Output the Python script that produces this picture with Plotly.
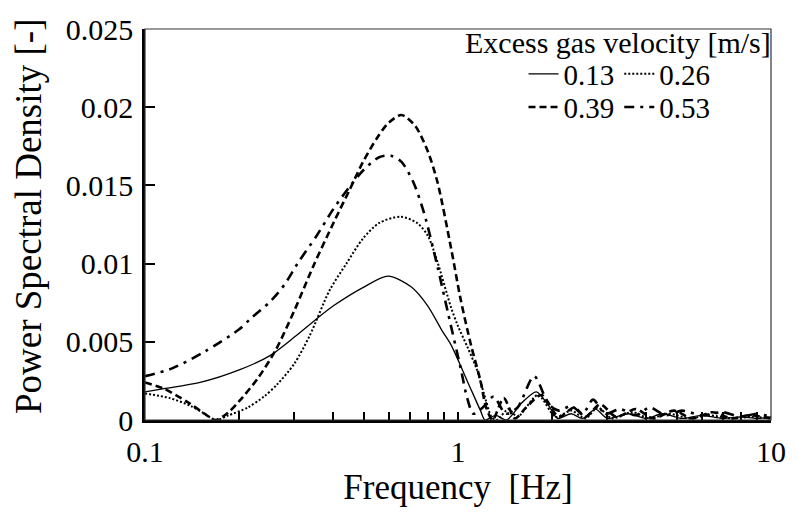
import plotly.graph_objects as go

# ---- data ----
f_013 = [0.1, 0.115, 0.15, 0.2, 0.25, 0.3, 0.35, 0.4, 0.5, 0.598, 0.71, 0.80, 0.89, 0.95, 1.07, 1.18, 1.22,
         1.32, 1.43, 1.6, 1.78, 1.95, 2.08, 2.3, 2.5, 2.75, 3.0, 3.5, 4.0, 4.5, 5.2, 6.0, 7.0, 8.0, 9.0, 10.0]
v_013 = [0.0018, 0.0020, 0.0024, 0.0032, 0.0041, 0.0053, 0.0064, 0.0073, 0.0085, 0.0092, 0.0085, 0.0073, 0.0057, 0.0048,
         0.0025, 0.0006, 0.0, 0.0003, 0.0, 0.0011, 0.0018, 0.0009, 0.0001, 0.0004, 0.0001, 0.0007, 0.0001, 0.0004,
         0.0001, 0.0004, 0.0001, 0.0003, 0.0001, 0.0002, 0.0001, 0.0002]

f_026 = [0.1, 0.12, 0.14, 0.155, 0.168, 0.185, 0.213, 0.24, 0.265, 0.30, 0.336, 0.389, 0.44, 0.497, 0.56, 0.655, 0.74,
         0.80, 0.86, 0.95, 1.0, 1.07, 1.15, 1.21, 1.28, 1.33, 1.45, 1.55, 1.8, 2.05, 2.3, 2.55, 2.8, 3.1, 3.6, 4.1,
         4.7, 5.5, 6.3, 7.5, 8.7, 10.0]
v_026 = [0.0017, 0.0014, 0.0009, 0.0004, 0.0, 0.0003, 0.0008, 0.0015, 0.0023, 0.0036, 0.0054, 0.0083, 0.0100, 0.0116,
         0.0126, 0.0130, 0.0126, 0.0118, 0.0101, 0.0072, 0.0060, 0.0047, 0.0032, 0.0017, 0.0002, 0.0, 0.0007, 0.0002,
         0.0016, 0.0002, 0.0006, 0.0001, 0.0008, 0.0001, 0.0005, 0.0001, 0.0004, 0.0001, 0.0003, 0.0001, 0.0002, 0.0001]

f_039 = [0.1, 0.115, 0.138, 0.155, 0.168, 0.185, 0.2, 0.23, 0.262, 0.30, 0.346, 0.40, 0.45, 0.497, 0.55, 0.6, 0.66,
         0.73, 0.80, 0.86, 0.95, 1.02, 1.10, 1.18, 1.23, 1.29, 1.4, 1.52, 1.65, 1.85, 2.1, 2.35, 2.55, 2.85, 3.2,
         3.7, 4.2, 4.9, 5.6, 6.5, 7.5, 8.5, 10.0]
v_039 = [0.0024, 0.0020, 0.0011, 0.0004, 0.0, 0.0005, 0.0012, 0.0027, 0.0045, 0.0070, 0.0099, 0.0126, 0.0147, 0.0165,
         0.0180, 0.0190, 0.0195, 0.0188, 0.0172, 0.0152, 0.0110, 0.0077, 0.0048, 0.0025, 0.0008, 0.0, 0.0014, 0.0001,
         0.0008, 0.0016, 0.0002, 0.0008, 0.0002, 0.0010, 0.0002, 0.0007, 0.0001, 0.0006, 0.0001, 0.0005, 0.0001,
         0.0003, 0.0001]

f_053 = [0.1, 0.122, 0.156, 0.2, 0.218, 0.252, 0.28, 0.307, 0.354, 0.40, 0.45, 0.50, 0.56, 0.61, 0.66, 0.72, 0.78,
         0.86, 0.93, 1.02, 1.07, 1.12, 1.2, 1.3, 1.42, 1.55, 1.75, 1.95, 2.1, 2.3, 2.5, 2.7, 2.95, 3.3, 3.7, 4.1,
         4.6, 5.2, 6.0, 7.0, 8.0, 9.0, 10.0]
v_053 = [0.0028, 0.0033, 0.0044, 0.0058, 0.0065, 0.0076, 0.0087, 0.0100, 0.0118, 0.0135, 0.0149, 0.0160, 0.0168,
         0.0169, 0.0165, 0.0152, 0.0132, 0.0098, 0.0068, 0.0033, 0.0014, 0.0004, 0.0008, 0.0015, 0.0004, 0.0008,
         0.0028, 0.0010, 0.0006, 0.0009, 0.0004, 0.0013, 0.0004, 0.0007, 0.0003, 0.0008, 0.0003, 0.0006, 0.0003,
         0.0005, 0.0002, 0.0004, 0.0002]

series_names = ["0.13", "0.26", "0.39", "0.53"]
legend_title = "Excess gas velocity [m/s]"
x_title = "Frequency  [Hz]"
y_title = "Power Spectral Density [-]"
x_tickvals = [0.1, 1, 10]
x_ticktext = ["0.1", "1", "10"]
x_minor = [0.2, 0.3, 0.4, 0.5, 0.6, 0.7, 0.8, 0.9, 2, 3, 4, 5, 6, 7, 8, 9]

FONT = "Liberation Serif, Times New Roman, serif"

styles = [
    dict(width=1.3, dash="solid", legend="legend"),
    dict(width=2.0, dash="2px,2px", legend="legend"),
    dict(width=2.6, dash="7px,4px", legend="legend2"),
    dict(width=2.6, dash="10px,6px,3px,6px", legend="legend2"),
]
data = [(f_013, v_013), (f_026, v_026), (f_039, v_039), (f_053, v_053)]

fig = go.Figure()
for (fx, vy), name, st in zip(data, series_names, styles):
    fig.add_trace(go.Scatter(
        x=fx, y=vy, name=name, mode="lines",
        line=dict(color="black", width=st["width"], dash=st["dash"], shape="spline", smoothing=0.8),
        legend=st["legend"],
    ))

legend_common = dict(
    orientation="h", xanchor="center", yanchor="middle", bgcolor="rgba(0,0,0,0)",
    font=dict(family=FONT, size=29, color="black"), itemwidth=30, traceorder="normal",
)

fig.update_layout(
    width=798, height=520,
    margin=dict(l=145, r=16, t=18, b=100),
    paper_bgcolor="white", plot_bgcolor="white",
    font=dict(family=FONT, color="black"),
    legend=dict(x=0.758, y=0.885, **legend_common),
    legend2=dict(x=0.758, y=0.800, **legend_common),
    annotations=[
        dict(text=legend_title, xref="paper", yref="paper", x=0.755, y=0.965,
             xanchor="center", yanchor="middle", showarrow=False,
             font=dict(family=FONT, size=30, color="black")),
        dict(text=y_title, xref="paper", yref="paper", x=-0.185, y=0.522, textangle=-90,
             xanchor="center", yanchor="middle", showarrow=False,
             font=dict(family=FONT, size=37, color="black")),
    ],
    shapes=[dict(type="rect", xref="paper", yref="paper", x0=0, y0=0, x1=1, y1=1,
                 line=dict(color="#333", width=1.2), layer="above")],
)

fig.update_xaxes(
    type="log", range=[-1, 1], tickmode="array", tickvals=x_tickvals, ticktext=x_ticktext,
    ticks="inside", ticklen=8, tickwidth=1.5, tickcolor="black",
    showline=True, linecolor="black", linewidth=2.5, showgrid=False, zeroline=False,
    tickfont=dict(family=FONT, size=30, color="black"), ticklabelstandoff=3,
    minor=dict(tickmode="array", tickvals=x_minor, ticks="inside", ticklen=8, tickwidth=1.5,
               tickcolor="black", showgrid=False),
    title=dict(text=x_title, font=dict(family=FONT, size=35, color="black"), standoff=8),
)
fig.update_yaxes(
    range=[0, 0.025], dtick=0.005, tick0=0,
    ticks="inside", ticklen=10, tickwidth=1.5, tickcolor="black",
    showline=True, linecolor="black", linewidth=2.5, showgrid=False, zeroline=False,
    tickfont=dict(family=FONT, size=30, color="black"), ticklabelstandoff=3,
)

fig.write_html("out.html")
